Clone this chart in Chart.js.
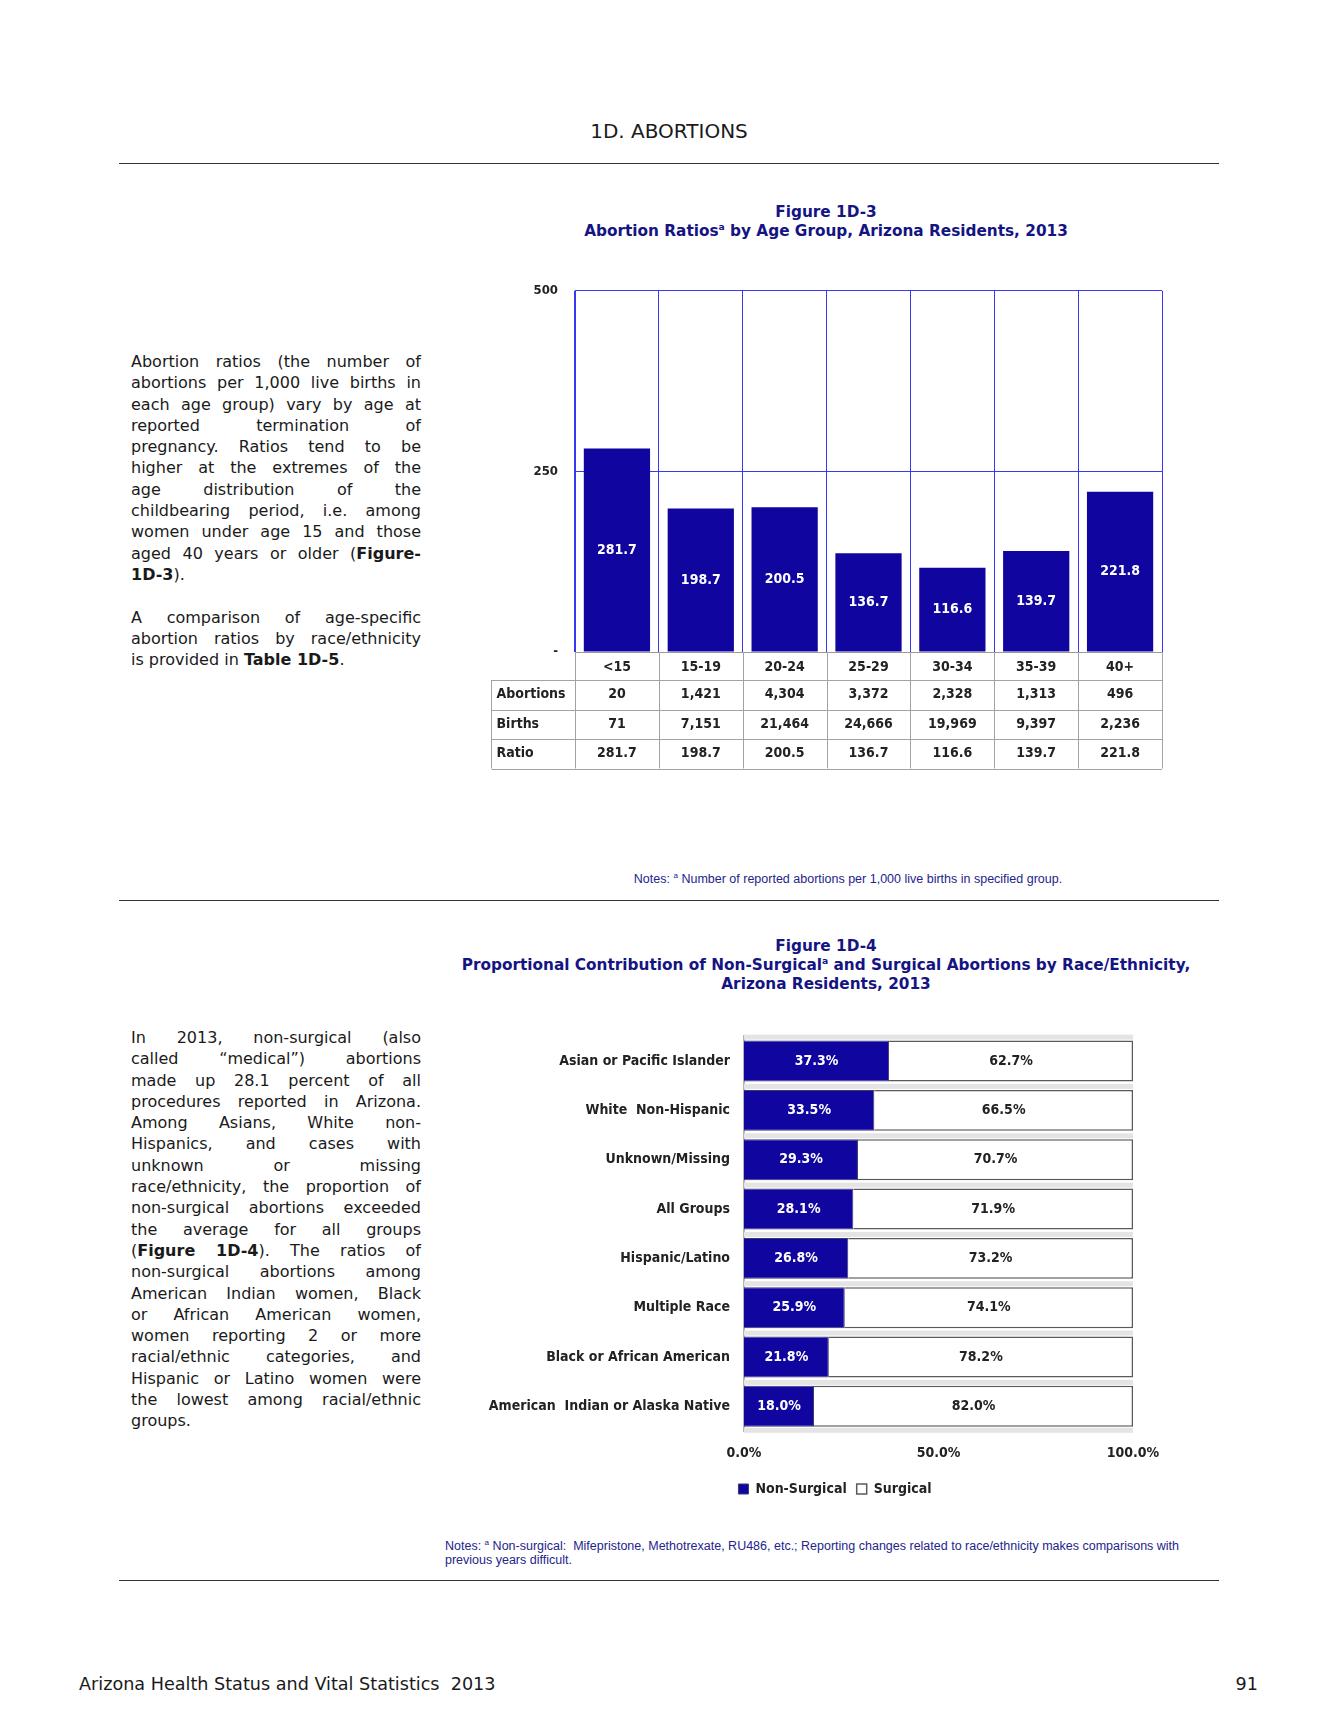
<!DOCTYPE html>
<html lang="en">
<head>
<meta charset="UTF-8">
<title>1D. Abortions</title>
<script src="https://cdn.jsdelivr.net/npm/chart.js"></script>
<style>
    body { margin: 0; background: #fff; }
    .page {
        position: relative;
        width: 1338px;
        height: 1731px;
        background: #fff;
        font-family: "DejaVu Sans", Verdana, sans-serif;
        color: #1a1a1a;
        overflow: hidden;
    }
    .header { position: absolute; top: 119px; left: 0; width: 1338px; text-align: center; font-size: 20px; }
    .rule { position: absolute; left: 119px; width: 1100px; height: 0; border-top: 1.5px solid #333; }
    .fig-title {
        position: absolute;
        left: 426px;
        width: 800px;
        text-align: center;
        font-weight: bold;
        font-size: 15.3px;
        line-height: 18.7px;
        color: #141482;
    }
    .fig-title sup { font-size: 0.6em; line-height: 0; }
    .para { position: absolute; left: 131px; width: 290px; font-size: 16px; line-height: 21.3px; }
    .para div { white-space: nowrap; text-align: justify; text-align-last: justify; }
    .para div.last { text-align-last: left; }
    .note { position: absolute; font-family: "Liberation Sans", Arial, sans-serif; font-size: 12.5px; line-height: 14px; color: #24248c; }
    .note sup { font-size: 0.65em; line-height: 0; }
    .footer { position: absolute; top: 1674px; font-size: 17.6px; }
    canvas { position: absolute; }
</style>
</head>
<body>
<div class="page">
    <div class="header">1D. ABORTIONS</div>
    <div class="rule" style="top:163px"></div>

    <div class="fig-title" style="top:203px">Figure 1D-3<br>Abortion Ratios<sup>a</sup> by Age Group, Arizona Residents, 2013</div>

    <div class="para" style="top:351px">
        <div>Abortion ratios (the number of</div>
        <div>abortions per 1,000 live births in</div>
        <div>each age group) vary by age at</div>
        <div>reported termination of</div>
        <div>pregnancy. Ratios tend to be</div>
        <div>higher at the extremes of the</div>
        <div>age distribution of the</div>
        <div>childbearing period, i.e. among</div>
        <div>women under age 15 and those</div>
        <div>aged 40 years or older (<b>Figure-</b></div>
        <div class="last"><b>1D-3</b>).</div>
        <div class="last">&nbsp;</div>
        <div>A comparison of age-specific</div>
        <div>abortion ratios by race/ethnicity</div>
        <div class="last">is provided in <b>Table 1D-5</b>.</div>
    </div>

    <canvas id="ratioChart" width="680" height="509" style="left:491px; top:266px"></canvas>

    <div class="note" style="left:448px; width:800px; text-align:center; top:872px">Notes: <sup>a</sup> Number of reported abortions per 1,000 live births in specified group.</div>
    <div class="rule" style="top:900px"></div>

    <div class="fig-title" style="top:937px; line-height:19px">Figure 1D-4<br>Proportional Contribution of Non-Surgical<sup>a</sup> and Surgical Abortions by Race/Ethnicity,<br>Arizona Residents, 2013</div>

    <div class="para" style="top:1027px">
        <div>In 2013, non-surgical (also</div>
        <div>called “medical”) abortions</div>
        <div>made up 28.1 percent of all</div>
        <div>procedures reported in Arizona.</div>
        <div>Among Asians, White non-</div>
        <div>Hispanics, and cases with</div>
        <div>unknown or missing</div>
        <div>race/ethnicity, the proportion of</div>
        <div>non-surgical abortions exceeded</div>
        <div>the average for all groups</div>
        <div>(<b>Figure 1D-4</b>). The ratios of</div>
        <div>non-surgical abortions among</div>
        <div>American Indian women, Black</div>
        <div>or African American women,</div>
        <div>women reporting 2 or more</div>
        <div>racial/ethnic categories, and</div>
        <div>Hispanic or Latino women were</div>
        <div>the lowest among racial/ethnic</div>
        <div class="last">groups.</div>
    </div>

    <canvas id="methodChart" width="700" height="501" style="left:485px; top:1014px"></canvas>

    <div class="note" style="left:445px; top:1539px; width:800px">Notes: <sup>a</sup> Non-surgical:&nbsp; Mifepristone, Methotrexate, RU486, etc.; Reporting changes related to race/ethnicity makes comparisons with<br>previous years difficult.</div>
    <div class="rule" style="top:1580px"></div>

    <div class="footer" style="left:79px">Arizona Health Status and Vital Statistics&nbsp; 2013</div>
    <div class="footer" style="right:80px">91</div>
</div>

<script>
    // Figure 1D-3 data
    const ageGroups = ['<15', '15-19', '20-24', '25-29', '30-34', '35-39', '40+'];
    const abortionRatios = [281.7, 198.7, 200.5, 136.7, 116.6, 139.7, 221.8];
    const abortionCounts = [20, 1421, 4304, 3372, 2328, 1313, 496];
    const birthCounts = [71, 7151, 21464, 24666, 19969, 9397, 2236];
    const ratioTicks = [0, 250, 500];

    // Figure 1D-4 data
    const raceGroups = [
        'Asian or Pacific Islander',
        'White  Non-Hispanic',
        'Unknown/Missing',
        'All Groups',
        'Hispanic/Latino',
        'Multiple Race',
        'Black or African American',
        'American  Indian or Alaska Native'
    ];
    const nonSurgicalPct = [37.3, 33.5, 29.3, 28.1, 26.8, 25.9, 21.8, 18.0];
    const surgicalPct = [62.7, 66.5, 70.7, 71.9, 73.2, 74.1, 78.2, 82.0];
    const pctTicks = [0, 50, 100];

    const NARROW = "'Liberation Sans Narrow', 'DejaVu Sans Condensed', 'Liberation Sans', sans-serif";
    const BAR_BLUE = '#10069f';
    const GRID_BLUE = '#3838f2';

    // value labels in the middle of each bar
    const barValueLabels = {
        id: 'barValueLabels',
        afterDatasetsDraw(chart, args, opts) {
            const ctx = chart.ctx;
            const horizontal = chart.options.indexAxis === 'y';
            chart.data.datasets.forEach((ds, di) => {
                const meta = chart.getDatasetMeta(di);
                meta.data.forEach((bar, i) => {
                    const p = bar.getProps(['x', 'y', 'base'], true);
                    const cx = horizontal ? (p.x + p.base) / 2 : p.x;
                    const cy = horizontal ? p.y : (p.y + p.base) / 2;
                    ctx.save();
                    ctx.font = opts.font;
                    ctx.fillStyle = opts.colors[di];
                    ctx.textAlign = 'center';
                    ctx.textBaseline = 'middle';
                    ctx.fillText(ds.data[i].toFixed(1) + (opts.suffix || ''), cx, cy);
                    ctx.restore();
                });
            });
        }
    };

    // data table under the age group chart
    const dataTable = {
        id: 'dataTable',
        afterDraw(chart, args, opts) {
            const ctx = chart.ctx;
            const { left, right, bottom } = chart.chartArea;
            const xs = chart.scales.x;
            const n = chart.data.labels.length;
            const colW = (right - left) / n;
            const tableLeft = 0.5;
            const rowY = [bottom, bottom + opts.headHeight];
            opts.rows.forEach(() => rowY.push(rowY[rowY.length - 1] + opts.rowHeight));
            const lastY = rowY[rowY.length - 1];

            ctx.save();
            ctx.strokeStyle = '#a3a3a3';
            ctx.lineWidth = 1;
            ctx.beginPath();
            for (let r = 1; r < rowY.length; r++) {
                ctx.moveTo(tableLeft, Math.round(rowY[r]) + 0.5);
                ctx.lineTo(right, Math.round(rowY[r]) + 0.5);
            }
            for (let c = 0; c <= n; c++) {
                const x = Math.round(left + c * colW) + 0.5;
                ctx.moveTo(x, bottom);
                ctx.lineTo(x, lastY);
            }
            ctx.moveTo(tableLeft, rowY[1]);
            ctx.lineTo(tableLeft, lastY);
            ctx.stroke();

            ctx.font = opts.font;
            ctx.fillStyle = '#222';
            ctx.textBaseline = 'middle';
            opts.rows.forEach((row, r) => {
                const cy = (rowY[r + 1] + rowY[r + 2]) / 2;
                ctx.textAlign = 'left';
                ctx.fillText(row.label, tableLeft + 5, cy);
                ctx.textAlign = 'center';
                row.values.forEach((v, i) => {
                    ctx.fillText(row.format(v), xs.getPixelForValue(i), cy);
                });
            });
            ctx.restore();
        }
    };

    // light grey strips above each bar, like the original 3-D floor
    const barStrips = {
        id: 'barStrips',
        beforeDatasetsDraw(chart) {
            const ctx = chart.ctx;
            const xs = chart.scales.x;
            const x0 = xs.getPixelForValue(0);
            const x1 = xs.getPixelForValue(100);
            const bars = chart.getDatasetMeta(0).data;
            ctx.save();
            ctx.fillStyle = '#e4e4e4';
            bars.forEach((bar, i) => {
                const top = bar.y - bar.height / 2;
                ctx.fillRect(x0, top - 6, x1 - x0, 5);
                if (i === bars.length - 1) {
                    ctx.fillRect(x0, top + bar.height + 1, x1 - x0, 5);
                }
            });
            ctx.restore();
        }
    };

    // nudge the legend so it sits centred under the page column like the original
    const legendShift = {
        id: 'legendShift',
        afterLayout(chart, args, opts) {
            if (chart.legend) {
                chart.legend.left += opts.dx;
                chart.legend.right += opts.dx;
            }
        }
    };

    const fmt = (v) => v.toLocaleString('en-US');

    new Chart(document.getElementById('ratioChart'), {
        type: 'bar',
        data: {
            labels: ageGroups,
            datasets: [{
                label: 'Ratio',
                data: abortionRatios,
                backgroundColor: BAR_BLUE,
                borderWidth: 0,
                categoryPercentage: 1,
                barPercentage: 0.79
            }]
        },
        options: {
            responsive: false,
            animation: false,
            layout: { padding: { top: 11, right: 9, bottom: 6, left: 0 } },
            scales: {
                x: {
                    grid: { offset: true, color: GRID_BLUE, drawTicks: false },
                    border: { display: false },
                    ticks: { color: '#222', font: { family: NARROW, size: 14, weight: 'bold' }, padding: 7 },
                    afterFit: (s) => { s.height = 117; }
                },
                y: {
                    min: 0,
                    max: 500,
                    afterBuildTicks: (s) => { s.ticks = ratioTicks.map((v) => ({ value: v })); },
                    grid: {
                        color: (c) => (c.tick && c.tick.value === 0 ? '#9a9a9a' : GRID_BLUE),
                        drawTicks: false
                    },
                    border: { color: GRID_BLUE },
                    ticks: {
                        color: '#222',
                        font: { family: NARROW, size: 13, weight: 'bold' },
                        padding: 17,
                        callback: (v) => (v === 0 ? '-' : v)
                    },
                    afterFit: (s) => { s.width = 84; }
                }
            },
            plugins: {
                legend: { display: false },
                tooltip: { enabled: false },
                barValueLabels: {
                    font: 'bold 14px ' + NARROW,
                    colors: ['#ffffff']
                },
                dataTable: {
                    headHeight: 28,
                    rowHeight: 29.5,
                    font: 'bold 14px ' + NARROW,
                    rows: [
                        { label: 'Abortions', values: abortionCounts, format: fmt },
                        { label: 'Births', values: birthCounts, format: fmt },
                        { label: 'Ratio', values: abortionRatios, format: (v) => v.toFixed(1) }
                    ]
                }
            }
        },
        plugins: [barValueLabels, dataTable]
    });

    new Chart(document.getElementById('methodChart'), {
        type: 'bar',
        data: {
            labels: raceGroups,
            datasets: [{
                label: 'Non-Surgical',
                data: nonSurgicalPct,
                backgroundColor: BAR_BLUE,
                borderColor: '#3b3b6e',
                borderWidth: 1,
                categoryPercentage: 1,
                barPercentage: 0.83
            }, {
                label: 'Surgical',
                data: surgicalPct,
                backgroundColor: '#ffffff',
                borderColor: '#5a5a5a',
                borderWidth: 1.5,
                categoryPercentage: 1,
                barPercentage: 0.83
            }]
        },
        options: {
            indexAxis: 'y',
            responsive: false,
            animation: false,
            layout: { padding: { top: 11, right: 52, bottom: 9, left: 0 } },
            scales: {
                x: {
                    stacked: true,
                    min: 0,
                    max: 100,
                    afterBuildTicks: (s) => { s.ticks = pctTicks.map((v) => ({ value: v })); },
                    grid: { display: false, drawTicks: false },
                    border: { display: false },
                    ticks: {
                        color: '#222',
                        font: { family: NARROW, size: 14, weight: 'bold' },
                        padding: 14,
                        callback: (v) => v.toFixed(1) + '%'
                    },
                    afterFit: (s) => { s.height = 41; }
                },
                y: {
                    stacked: true,
                    grid: { display: false, drawTicks: false },
                    border: { color: '#b5b5b5', width: 2 },
                    ticks: {
                        color: '#222',
                        font: { family: NARROW, size: 14, weight: 'bold' },
                        padding: 14
                    },
                    afterFit: (s) => { s.width = 259; }
                }
            },
            plugins: {
                legend: {
                    position: 'bottom',
                    labels: {
                        color: '#222',
                        font: { family: NARROW, size: 14, weight: 'bold' },
                        boxWidth: 10,
                        boxHeight: 10,
                        padding: 10
                    }
                },
                legendShift: { dx: 26 },
                tooltip: { enabled: false },
                barValueLabels: {
                    font: 'bold 14px ' + NARROW,
                    colors: ['#ffffff', '#222222'],
                    suffix: '%'
                }
            }
        },
        plugins: [barStrips, barValueLabels, legendShift]
    });
</script>
</body>
</html>
